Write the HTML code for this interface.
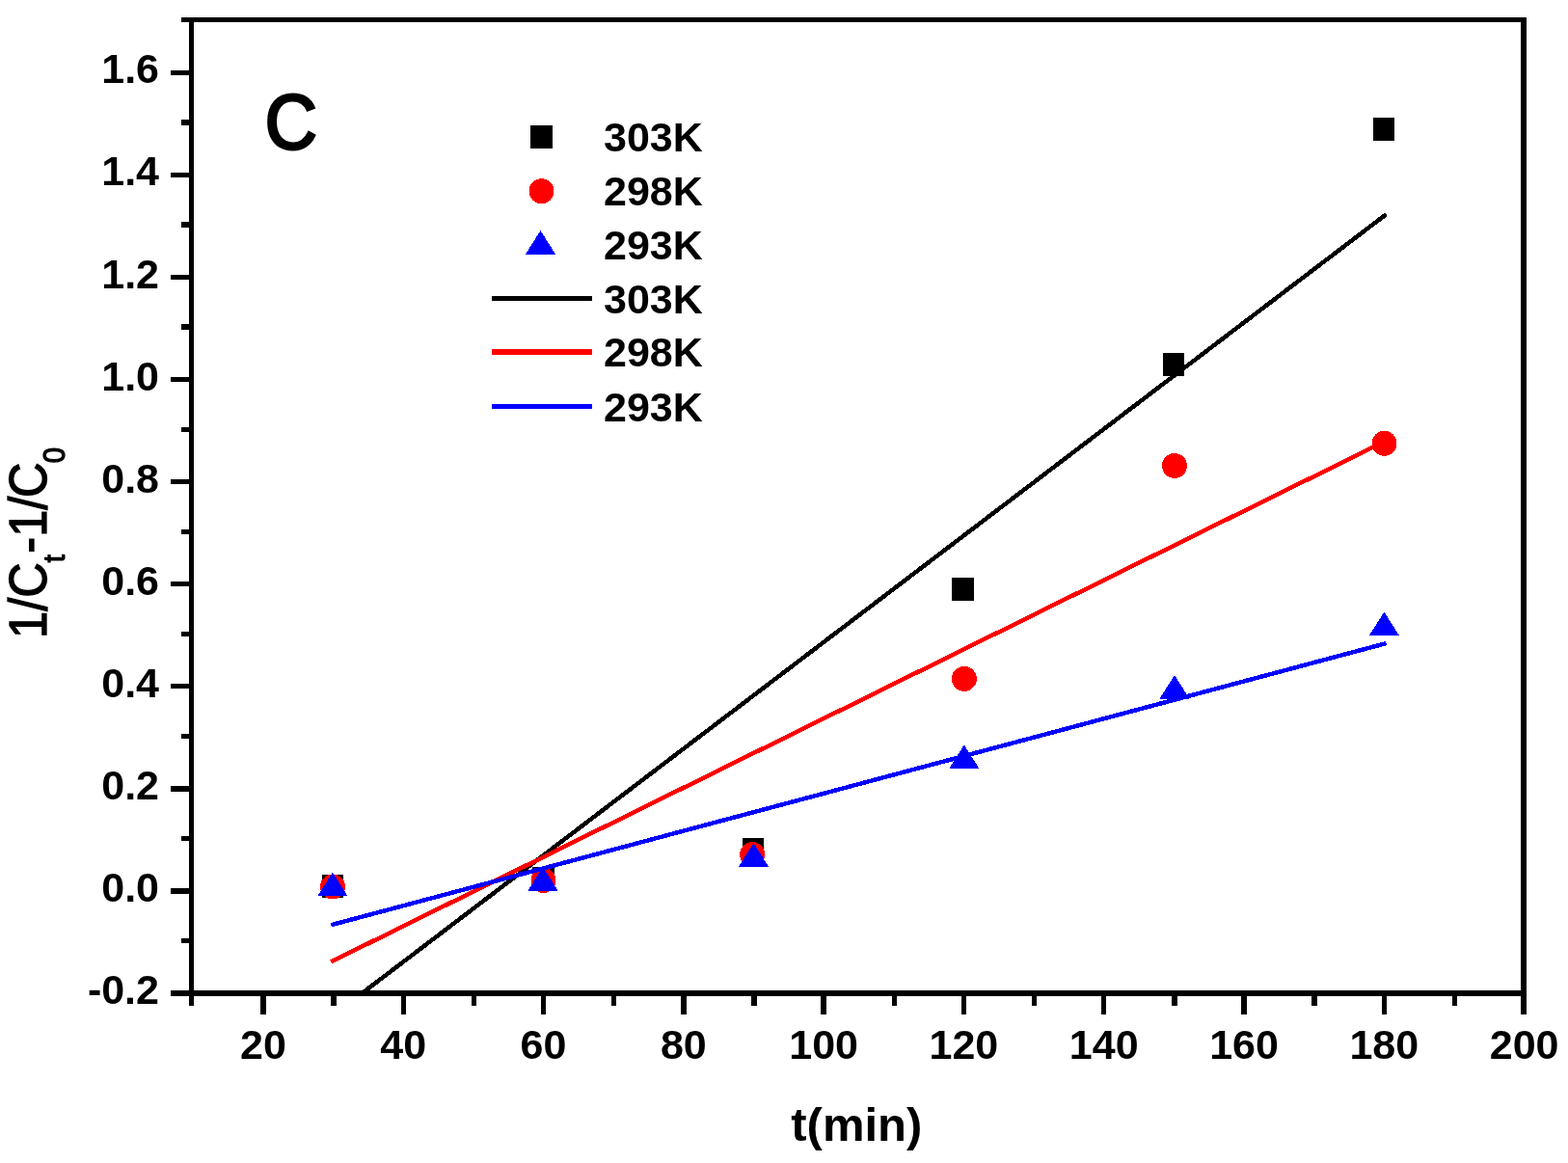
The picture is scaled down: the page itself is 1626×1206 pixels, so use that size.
<!DOCTYPE html><html><head><meta charset="utf-8"><title>1/Ct-1/C0 vs t(min)</title><style>
html,body{margin:0;padding:0;background:#fff;}body{width:1626px;height:1206px;overflow:hidden;}svg{display:block;}
text{font-family:'Liberation Sans', Arial, sans-serif;fill:#000;}
</style></head><body>
<svg width="1626" height="1206" viewBox="0 0 1626 1206" shape-rendering="crispEdges">
<rect width="1626" height="1206" fill="#fff"/>
<defs><clipPath id="pa"><rect x="198.7" y="20.6" width="1381.3" height="1009.4"/></clipPath></defs>
<g stroke="#000" stroke-width="5.4" fill="none"><line x1="177" y1="1030.00" x2="198.7" y2="1030.00"/><line x1="188" y1="975.53" x2="198.7" y2="975.53"/><line x1="177" y1="923.90" x2="198.7" y2="923.90"/><line x1="188" y1="869.47" x2="198.7" y2="869.47"/><line x1="177" y1="817.84" x2="198.7" y2="817.84"/><line x1="188" y1="763.41" x2="198.7" y2="763.41"/><line x1="177" y1="711.78" x2="198.7" y2="711.78"/><line x1="188" y1="657.35" x2="198.7" y2="657.35"/><line x1="177" y1="605.72" x2="198.7" y2="605.72"/><line x1="188" y1="551.29" x2="198.7" y2="551.29"/><line x1="177" y1="499.66" x2="198.7" y2="499.66"/><line x1="188" y1="445.23" x2="198.7" y2="445.23"/><line x1="177" y1="393.60" x2="198.7" y2="393.60"/><line x1="188" y1="339.17" x2="198.7" y2="339.17"/><line x1="177" y1="287.54" x2="198.7" y2="287.54"/><line x1="188" y1="233.11" x2="198.7" y2="233.11"/><line x1="177" y1="181.48" x2="198.7" y2="181.48"/><line x1="188" y1="127.05" x2="198.7" y2="127.05"/><line x1="177" y1="75.42" x2="198.7" y2="75.42"/><line x1="188" y1="20.60" x2="198.7" y2="20.60"/><line x1="198.70" y1="1030.0" x2="198.70" y2="1043"/><line x1="272.92" y1="1030.0" x2="272.92" y2="1052"/><line x1="346.07" y1="1030.0" x2="346.07" y2="1043"/><line x1="418.22" y1="1030.0" x2="418.22" y2="1052"/><line x1="491.37" y1="1030.0" x2="491.37" y2="1043"/><line x1="563.52" y1="1030.0" x2="563.52" y2="1052"/><line x1="636.67" y1="1030.0" x2="636.67" y2="1043"/><line x1="708.82" y1="1030.0" x2="708.82" y2="1052"/><line x1="781.97" y1="1030.0" x2="781.97" y2="1043"/><line x1="854.12" y1="1030.0" x2="854.12" y2="1052"/><line x1="927.27" y1="1030.0" x2="927.27" y2="1043"/><line x1="999.42" y1="1030.0" x2="999.42" y2="1052"/><line x1="1072.57" y1="1030.0" x2="1072.57" y2="1043"/><line x1="1144.72" y1="1030.0" x2="1144.72" y2="1052"/><line x1="1217.87" y1="1030.0" x2="1217.87" y2="1043"/><line x1="1290.02" y1="1030.0" x2="1290.02" y2="1052"/><line x1="1363.17" y1="1030.0" x2="1363.17" y2="1043"/><line x1="1435.32" y1="1030.0" x2="1435.32" y2="1052"/><line x1="1508.47" y1="1030.0" x2="1508.47" y2="1043"/><line x1="1580.00" y1="1030.0" x2="1580.00" y2="1052"/></g>
<rect x="198.7" y="20.6" width="1381.3" height="1009.4" fill="none" stroke="#000" stroke-width="5.5"/>
<g font-size="43" font-weight="bold"><text x="165" y="1040.96" text-anchor="end">-0.2</text><text x="165" y="934.90" text-anchor="end">0.0</text><text x="165" y="828.84" text-anchor="end">0.2</text><text x="165" y="722.78" text-anchor="end">0.4</text><text x="165" y="616.72" text-anchor="end">0.6</text><text x="165" y="510.66" text-anchor="end">0.8</text><text x="165" y="404.60" text-anchor="end">1.0</text><text x="165" y="298.54" text-anchor="end">1.2</text><text x="165" y="192.48" text-anchor="end">1.4</text><text x="165" y="86.42" text-anchor="end">1.6</text><text x="272.92" y="1098.4" text-anchor="middle">20</text><text x="418.22" y="1098.4" text-anchor="middle">40</text><text x="563.52" y="1098.4" text-anchor="middle">60</text><text x="708.82" y="1098.4" text-anchor="middle">80</text><text x="854.12" y="1098.4" text-anchor="middle">100</text><text x="999.42" y="1098.4" text-anchor="middle">120</text><text x="1144.72" y="1098.4" text-anchor="middle">140</text><text x="1290.02" y="1098.4" text-anchor="middle">160</text><text x="1435.32" y="1098.4" text-anchor="middle">180</text><text x="1580.62" y="1098.4" text-anchor="middle">200</text></g>
<text x="888.3" y="1183.1" font-size="49" font-weight="bold" text-anchor="middle">t(min)</text>
<text transform="translate(48.3,662) rotate(-90) scale(0.92,1)" font-size="55" stroke="#000" stroke-width="1.3">1/C<tspan font-size="32" dy="19">t</tspan><tspan dx="1.5" dy="-19">-1/</tspan><tspan dx="-1.3">C</tspan><tspan font-size="32" dx="-1" dy="19">0</tspan></text>
<text transform="translate(274.8,154.3) scale(0.93,1)" font-size="80.5" stroke="#000" stroke-width="3">C</text>
<g>
<rect x="333.75" y="907.40" width="22.5" height="24" fill="#000"/><rect x="552.25" y="899.00" width="22.5" height="24" fill="#000"/><rect x="769.75" y="869.00" width="22.5" height="24" fill="#000"/><rect x="987.15" y="599.10" width="22.5" height="24" fill="#000"/><rect x="1205.75" y="366.00" width="22.5" height="24" fill="#000"/><rect x="1423.75" y="122.00" width="22.5" height="24" fill="#000"/>
<circle cx="345.00" cy="919.40" r="13" fill="#f00"/><circle cx="563.50" cy="912.90" r="13" fill="#f00"/><circle cx="780.20" cy="886.00" r="13" fill="#f00"/><circle cx="999.80" cy="703.90" r="13" fill="#f00"/><circle cx="1218.00" cy="483.00" r="13" fill="#f00"/><circle cx="1435.50" cy="459.80" r="13" fill="#f00"/>
<polygon points="344.90,904.55 360.40,929.05 329.40,929.05" fill="#00f"/><polygon points="563.00,899.05 578.50,923.55 547.50,923.55" fill="#00f"/><polygon points="781.50,874.25 797.00,898.75 766.00,898.75" fill="#00f"/><polygon points="999.80,772.35 1015.30,796.85 984.30,796.85" fill="#00f"/><polygon points="1218.00,700.05 1233.50,724.55 1202.50,724.55" fill="#00f"/><polygon points="1435.40,634.50 1450.90,659.00 1419.90,659.00" fill="#00f"/>
</g>
<g clip-path="url(#pa)" stroke-width="4.5" fill="none">
<line x1="343.30" y1="1054.39" x2="1437.50" y2="222.24" stroke="#000"/>
<line x1="343.30" y1="997.36" x2="1437.50" y2="457.01" stroke="#f00"/>
<line x1="343.30" y1="959.20" x2="1437.50" y2="667.08" stroke="#00f"/>
</g>
<rect x="550.25" y="130.10" width="22.5" height="24" fill="#000"/>
<circle cx="561.50" cy="198.20" r="13" fill="#f00"/>
<polygon points="560.50,239.05 576.00,263.55 545.00,263.55" fill="#00f"/>
<line x1="510" y1="309.8" x2="614" y2="309.8" stroke="#000" stroke-width="5.3"/>
<line x1="510" y1="364.9" x2="614" y2="364.9" stroke="#f00" stroke-width="5.3"/>
<line x1="510" y1="421.7" x2="614" y2="421.7" stroke="#00f" stroke-width="5.3"/>
<g font-size="43" font-weight="bold">
<text x="626" y="157.10">303K</text>
<text x="626" y="213.20">298K</text>
<text x="626" y="269.00">293K</text>
<text x="626" y="324.80">303K</text>
<text x="626" y="379.90">298K</text>
<text x="626" y="436.70">293K</text>
</g>
</svg></body></html>
